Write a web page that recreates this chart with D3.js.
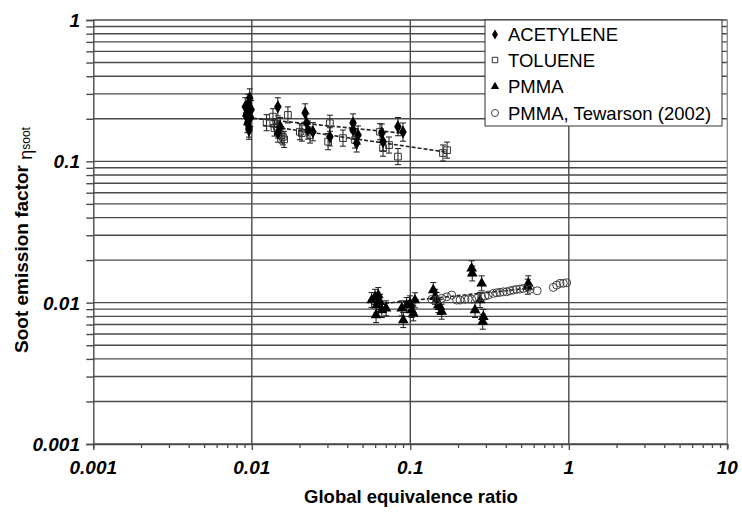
<!DOCTYPE html>
<html>
<head>
<meta charset="utf-8">
<script src="https://cdn.jsdelivr.net/npm/d3@7"></script>
<style>
  html, body { margin: 0; padding: 0; background: #fff; }
  svg { display: block; }
</style>
</head>
<body>
<svg id="chart" width="742" height="515"></svg>
<script>
// ---- data ----
const xTickLabels = ["0.001", "0.01", "0.1", "1", "10"];
const yTickLabels = ["0.001", "0.01", "0.1", "1"];
const seriesNames = ["ACETYLENE", "TOLUENE", "PMMA", "PMMA, Tewarson (2002)"];

const acetyleneX = [0.0091, 0.0095, 0.0097, 0.0093, 0.0095, 0.0096, 0.0098, 0.0094, 0.0099, 0.0092, 0.0096,
                    0.0146, 0.0151, 0.0146, 0.0217, 0.0222, 0.0226, 0.0243, 0.0311,
                    0.0435, 0.0435, 0.0468, 0.0459, 0.0661, 0.0673, 0.0836, 0.0899];
const acetyleneY = [0.243, 0.257, 0.281, 0.220, 0.196, 0.172, 0.205, 0.185, 0.232, 0.210, 0.166,
                    0.243, 0.176, 0.1585, 0.220, 0.1867, 0.1665, 0.162, 0.149,
                    0.1867, 0.1665, 0.1535, 0.135, 0.1585, 0.1377, 0.176, 0.161];

const tolueneX = [0.0124, 0.0136, 0.0139, 0.0144, 0.0146, 0.0154, 0.0157, 0.0160, 0.0169, 0.0201, 0.0207,
                  0.0233, 0.0303, 0.0311, 0.0376, 0.0448, 0.0644, 0.0673, 0.0734, 0.0836, 0.1607, 0.1706];
const tolueneY = [0.1876, 0.207, 0.172, 0.176, 0.1665, 0.1535, 0.149, 0.143, 0.213, 0.162, 0.1585,
                  0.1535, 0.1377, 0.186, 0.146, 0.1415, 0.162, 0.124, 0.1304, 0.108, 0.1145, 0.120];

const pmmaX = [0.0570, 0.0599, 0.0628, 0.0644, 0.0614, 0.0608, 0.0661, 0.0703,
               0.0883, 0.0903, 0.0949, 0.0996, 0.102, 0.107, 0.1045,
               0.1396, 0.1432, 0.1468, 0.1503, 0.1578, 0.1539,
               0.2438, 0.246, 0.282, 0.2754, 0.256, 0.289, 0.2864, 0.555, 0.5506];
const pmmaY = [0.01043, 0.0110, 0.01132, 0.01014, 0.00962, 0.00817, 0.00887, 0.00912,
               0.00912, 0.00753, 0.00962, 0.00989, 0.00887, 0.0104, 0.0084,
               0.01228, 0.0110, 0.01043, 0.00962, 0.00863, 0.00935,
               0.0175, 0.0161, 0.0137, 0.01043, 0.00887, 0.00794, 0.00733, 0.0137, 0.01297];

const tewarsonX = [0.1365, 0.1468, 0.1578, 0.1698, 0.1825, 0.1963, 0.206, 0.2215, 0.2323, 0.2438, 0.2624,
                   0.282, 0.296, 0.3105, 0.334, 0.351, 0.368, 0.386, 0.4055, 0.4255, 0.4467, 0.469,
                   0.492, 0.5164, 0.569, 0.632, 0.798, 0.839, 0.880, 0.923, 0.970];
const tewarsonY = [0.01055, 0.01043, 0.01072, 0.0110, 0.01132, 0.01043, 0.01043, 0.01055, 0.0106, 0.01055, 0.01072,
                   0.0110, 0.01114, 0.01132, 0.01163, 0.01175, 0.01183, 0.01194, 0.01194, 0.01214, 0.01228, 0.01242,
                   0.01248, 0.01262, 0.01242, 0.01214, 0.01283, 0.01332, 0.0137, 0.0137, 0.01383];

// relative error bar half-widths per series (acetylene, toluene, pmma)
const errorFraction = [0.16, 0.14, 0.13];

// dashed trend lines (end points)
const acetyleneFitX = [0.0102, 0.0901], acetyleneFitY = [0.2015, 0.158];
const tolueneFitX = [0.0118, 0.1706],   tolueneFitY = [0.1795, 0.116];
const pmmaFitX = [0.0692, 0.5445],      pmmaFitY = [0.00989, 0.01262];

// ---- drawing ----
const svg = d3.select("#chart");
const L = 93.3, R = 727.3, T = 20, B = 444;
const x = d3.scaleLog().domain([0.001, 10]).range([L, R]);
const y = d3.scaleLog().domain([0.001, 1]).range([B, T]);
const gridColor = "#4a4a4a";
const FONT = "'Liberation Sans', Arial, Helvetica, sans-serif";

// horizontal grid (all minor positions)
const yGrid = y.ticks(30).filter(v => v >= 0.001 && v <= 1);
svg.append("g").selectAll("line").data(yGrid).join("line")
  .attr("x1", L).attr("x2", R)
  .attr("y1", d => y(d)).attr("y2", d => y(d))
  .attr("stroke", gridColor).attr("stroke-width", 1.4);

// vertical grid at decades
const xDecades = [0.01, 0.1, 1];
svg.append("g").selectAll("line").data(xDecades).join("line")
  .attr("x1", d => x(d)).attr("x2", d => x(d))
  .attr("y1", T).attr("y2", B)
  .attr("stroke", gridColor).attr("stroke-width", 1.4);

// right border
svg.append("line").attr("x1", R).attr("x2", R).attr("y1", T).attr("y2", B + 5)
  .attr("stroke", "#8a8a8a").attr("stroke-width", 1.3);

// y axis
const yAxis = d3.axisLeft(y).tickValues(yGrid).tickSize(7).tickFormat("");
const gy = svg.append("g").attr("transform", `translate(${L},0)`).call(yAxis);
gy.select(".domain").attr("stroke", gridColor).attr("stroke-width", 1.4);
gy.selectAll(".tick line").attr("stroke", gridColor).attr("stroke-width", 1.4);

// x axis
const xAll = x.ticks(40).filter(v => v >= 0.001 && v <= 10);
const xAxis = d3.axisBottom(x).tickValues(xAll).tickSize(4).tickFormat("");
const gx = svg.append("g").attr("transform", `translate(0,${B})`).call(xAxis);
gx.select(".domain").attr("stroke", gridColor).attr("stroke-width", 1.4);
gx.selectAll(".tick line").attr("stroke", gridColor).attr("stroke-width", 1.3)
  .attr("y2", d => (Math.abs(Math.log10(d) - Math.round(Math.log10(d))) < 1e-6 ? 6 : 4));

// tick labels
svg.append("g").selectAll("text").data(xTickLabels).join("text")
  .attr("x", d => x(+d)).attr("y", 474)
  .attr("text-anchor", "middle")
  .attr("font-family", FONT).attr("font-size", 19).attr("font-weight", "bold").attr("font-style", "italic")
  .attr("fill", "#000").text(d => d);
svg.append("g").selectAll("text").data(yTickLabels).join("text")
  .attr("x", 80).attr("y", d => y(+d) + 7)
  .attr("text-anchor", "end")
  .attr("font-family", FONT).attr("font-size", 19).attr("font-weight", "bold").attr("font-style", "italic")
  .attr("fill", "#000").text(d => d);

// axis titles
svg.append("text").attr("x", 411).attr("y", 503).attr("text-anchor", "middle")
  .attr("font-family", FONT).attr("font-size", 18.5).attr("font-weight", "bold").attr("fill", "#000")
  .text("Global equivalence ratio");
const yt = svg.append("text").attr("transform", "translate(28,240) rotate(-90)")
  .attr("text-anchor", "middle").attr("font-family", FONT).attr("fill", "#000");
yt.append("tspan").attr("font-size", 19).attr("font-weight", "bold").text("Soot emission factor ");
yt.append("tspan").attr("font-size", 18).attr("dy", 4).text("\u03b7");
yt.append("tspan").attr("font-size", 12).attr("dy", -2).text("soot");

// trend lines
const line = d3.line().x(d => x(d[0])).y(d => y(d[1]));
[[acetyleneFitX, acetyleneFitY], [tolueneFitX, tolueneFitY], [pmmaFitX, pmmaFitY]].forEach(([fx, fy]) => {
  svg.append("path").datum(fx.map((v, i) => [v, fy[i]]))
    .attr("d", line).attr("fill", "none").attr("stroke", "#222")
    .attr("stroke-width", 1.6).attr("stroke-dasharray", "4,2");
});

// error bars
function errorBars(xs, ys, frac) {
  const g = svg.append("g").attr("stroke", "#1a1a1a").attr("stroke-width", 1);
  xs.forEach((xv, i) => {
    const yv = ys[i], cx = x(xv), y1 = y(yv * (1 + frac)), y2 = y(yv / (1 + frac));
    g.append("line").attr("x1", cx).attr("x2", cx).attr("y1", y1).attr("y2", y2);
    g.append("line").attr("x1", cx - 3).attr("x2", cx + 3).attr("y1", y1).attr("y2", y1);
    g.append("line").attr("x1", cx - 3).attr("x2", cx + 3).attr("y1", y2).attr("y2", y2);
  });
}
errorBars(acetyleneX, acetyleneY, errorFraction[0]);
errorBars(tolueneX, tolueneY, errorFraction[1]);
errorBars(pmmaX, pmmaY, errorFraction[2]);

// markers
const symDiamond = d3.symbol().type(d3.symbolDiamond).size(50);
const symSquare = d3.symbol().type(d3.symbolSquare).size(45);
const symTriangle = d3.symbol().type(d3.symbolTriangle).size(50);

function points(xs, ys, path, fill, stroke, sw) {
  svg.append("g").selectAll("path").data(xs.map((v, i) => [v, ys[i]])).join("path")
    .attr("transform", d => `translate(${x(d[0])},${y(d[1])})`)
    .attr("d", path).attr("fill", fill).attr("stroke", stroke).attr("stroke-width", sw);
}
points(tolueneX, tolueneY, symSquare, "none", "#333", 1);
points(acetyleneX, acetyleneY, symDiamond, "#000", "none", 0);
points(pmmaX, pmmaY, symTriangle, "#000", "none", 0);
svg.append("g").selectAll("circle").data(tewarsonX.map((v, i) => [v, tewarsonY[i]])).join("circle")
  .attr("cx", d => x(d[0])).attr("cy", d => y(d[1])).attr("r", 4)
  .attr("fill", "none").attr("stroke", "#444").attr("stroke-width", 1);

// legend
const lg = svg.append("g");
lg.append("rect").attr("x", 485).attr("y", 20).attr("width", 237).attr("height", 106)
  .attr("fill", "#fff").attr("stroke", "#333").attr("stroke-width", 1);
const legendRows = [34.5, 60, 86.5, 113];
const legendSyms = [
  g => g.append("path").attr("d", d3.symbol().type(d3.symbolDiamond).size(30)()).attr("fill", "#000"),
  g => g.append("path").attr("d", d3.symbol().type(d3.symbolSquare).size(30)()).attr("fill", "none").attr("stroke", "#333"),
  g => g.append("path").attr("d", d3.symbol().type(d3.symbolTriangle).size(30)()).attr("fill", "#000"),
  g => g.append("circle").attr("r", 3.5).attr("fill", "none").attr("stroke", "#444"),
];
seriesNames.forEach((name, i) => {
  const g = lg.append("g").attr("transform", `translate(495,${legendRows[i]})`);
  legendSyms[i](g);
  lg.append("text").attr("x", 508).attr("y", legendRows[i] + 6.5)
    .attr("font-family", FONT).attr("font-size", 18.5).attr("fill", "#000").text(name);
});
</script>
</body>
</html>
